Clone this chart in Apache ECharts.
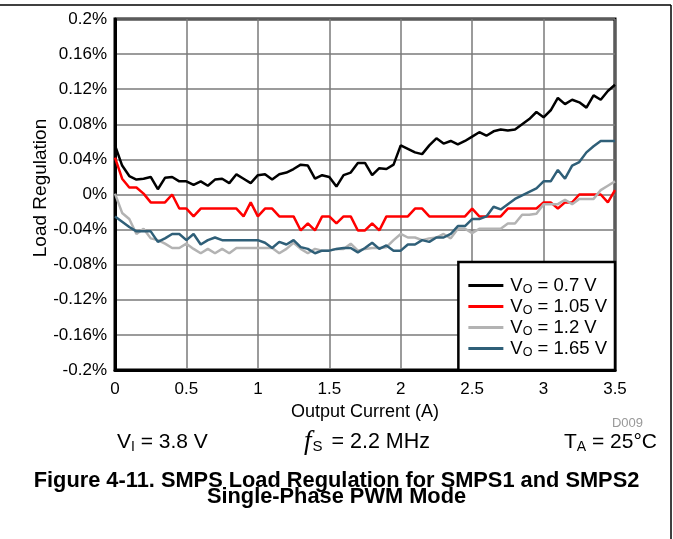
<!DOCTYPE html>
<html>
<head>
<meta charset="utf-8">
<script src="https://cdn.jsdelivr.net/npm/echarts@6/dist/echarts.min.js"></script>
<style>html,body{margin:0;padding:0;background:#fff;}#c{width:673px;height:539px;}</style>
</head>
<body>
<div id="c"></div>
<script>
// Output current (A)
const current = [0,0.05,0.1,0.15,0.2,0.25,0.3,0.35,0.4,0.45,0.5,0.55,0.6,0.65,0.7,0.75,0.8,0.85,0.9,0.95,
  1,1.05,1.1,1.15,1.2,1.25,1.3,1.35,1.4,1.45,1.5,1.55,1.6,1.65,1.7,1.75,1.8,1.85,1.9,1.95,
  2,2.05,2.1,2.15,2.2,2.25,2.3,2.35,2.4,2.45,2.5,2.55,2.6,2.65,2.7,2.75,2.8,2.85,2.9,2.95,
  3,3.05,3.1,3.15,3.2,3.25,3.3,3.35,3.4,3.45,3.5];
// Load regulation (%)
const vo070 = [0.056,0.033,0.021,0.017,0.018,0.020,0.006,0.019,0.020,0.015,0.015,0.011,0.015,0.010,0.017,0.018,0.013,0.023,0.018,0.013,
  0.022,0.023,0.017,0.023,0.025,0.029,0.034,0.033,0.018,0.022,0.020,0.009,0.022,0.025,0.036,0.036,0.022,0.030,0.029,0.034,
  0.056,0.052,0.048,0.046,0.056,0.064,0.058,0.061,0.057,0.061,0.066,0.071,0.067,0.072,0.074,0.073,0.074,0.080,0.086,0.094,
  0.088,0.096,0.110,0.103,0.108,0.105,0.099,0.113,0.108,0.118,0.125];
const vo105 = [0.042,0.018,0.008,0.008,0.001,-0.009,-0.009,-0.009,0.000,-0.016,-0.016,-0.025,-0.016,-0.016,-0.016,-0.016,-0.016,-0.016,-0.025,-0.009,
  -0.025,-0.016,-0.016,-0.025,-0.025,-0.025,-0.041,-0.033,-0.041,-0.025,-0.025,-0.033,-0.025,-0.025,-0.041,-0.041,-0.033,-0.041,-0.025,-0.025,
  -0.025,-0.025,-0.016,-0.016,-0.025,-0.025,-0.025,-0.025,-0.025,-0.025,-0.016,-0.025,-0.025,-0.025,-0.025,-0.016,-0.016,-0.016,-0.016,-0.016,
  -0.009,-0.009,-0.016,-0.009,-0.009,0.000,0.000,0.000,0.000,-0.009,0.005];
const vo120 = [0.001,-0.021,-0.028,-0.045,-0.039,-0.050,-0.052,-0.056,-0.061,-0.061,-0.056,-0.062,-0.067,-0.062,-0.067,-0.062,-0.067,-0.061,-0.061,-0.061,
  -0.061,-0.061,-0.061,-0.067,-0.062,-0.055,-0.062,-0.067,-0.062,-0.064,-0.064,-0.062,-0.062,-0.056,-0.064,-0.062,-0.061,-0.061,-0.060,-0.052,
  -0.045,-0.049,-0.049,-0.052,-0.050,-0.049,-0.045,-0.050,-0.039,-0.039,-0.044,-0.039,-0.039,-0.039,-0.039,-0.033,-0.033,-0.023,-0.023,-0.022,
  -0.011,-0.011,-0.011,-0.006,-0.011,-0.005,-0.005,-0.005,0.005,0.010,0.015];
const vo165 = [-0.025,-0.031,-0.037,-0.042,-0.042,-0.042,-0.054,-0.050,-0.045,-0.045,-0.052,-0.045,-0.057,-0.052,-0.049,-0.052,-0.052,-0.052,-0.052,-0.052,
  -0.052,-0.055,-0.061,-0.054,-0.057,-0.052,-0.060,-0.062,-0.067,-0.064,-0.064,-0.062,-0.061,-0.061,-0.066,-0.061,-0.055,-0.062,-0.058,-0.064,
  -0.064,-0.057,-0.057,-0.052,-0.054,-0.049,-0.049,-0.045,-0.036,-0.036,-0.028,-0.028,-0.025,-0.014,-0.017,-0.011,-0.005,-0.001,0.003,0.007,
  0.015,0.015,0.028,0.018,0.033,0.037,0.048,0.055,0.061,0.061,0.061];
const seriesNames = ['0.7 V','1.05 V','1.2 V','1.65 V'];
const seriesData = [vo070, vo105, vo120, vo165];
const seriesColors = ['#000000','#ff0000','#b3b3b3','#2f5f78'];

const chart = echarts.init(document.getElementById('c'), null, {renderer:'canvas'});
const FF = 'Liberation Sans, Arial, sans-serif';
const subRich = {
  a: {fontSize: 18.5, fontFamily: FF, fontWeight: 'normal', color: '#000', lineHeight: 18},
  s: {fontSize: 12.5, fontFamily: FF, fontWeight: 'normal', color: '#000', lineHeight: 10, padding: [8,0,0,0]}
};
const bigRich = {
  a: {fontSize: 21, fontFamily: FF, fontWeight: 'normal', color: '#000', lineHeight: 22},
  b: {fontSize: 21.5, fontFamily: FF, fontWeight: 'normal', color: '#000', lineHeight: 22, padding: [0,0,0,3]},
  s: {fontSize: 14, fontFamily: FF, fontWeight: 'normal', color: '#000', lineHeight: 12, padding: [10,0,0,0]},
  t: {fontSize: 15, fontFamily: FF, fontWeight: 'normal', color: '#000', lineHeight: 12, padding: [10,0,0,1]},
  i: {fontSize: 27, fontFamily: 'Liberation Serif, serif', fontStyle: 'italic', fontWeight: 'normal', color: '#000', lineHeight: 22}
};
const boldTitle = {fontSize: 21.8, fontWeight: 'bold', fontFamily: FF, color: '#000', lineHeight: 17};

chart.setOption({
  animation: false,
  backgroundColor: '#fff',
  grid: {left: 115, top: 19, right: 58, bottom: 169, show: true, borderColor: '#000', borderWidth: 3, backgroundColor: 'transparent'},
  xAxis: {
    type: 'value', min: 0, max: 3.5, interval: 0.5,
    name: 'Output Current (A)', nameLocation: 'middle', nameGap: 32,
    nameTextStyle: {fontSize: 18, fontFamily: FF, color: '#000'},
    axisLine: {onZero: false, lineStyle: {color: '#000', width: 3}},
    axisTick: {show: false},
    axisLabel: {fontSize: 17, fontFamily: FF, color: '#000', margin: 11},
    splitLine: {show: true, lineStyle: {color: '#7a7a7a', width: 1.5}}
  },
  yAxis: {
    type: 'value', min: -0.2, max: 0.2, interval: 0.04,
    name: 'Load Regulation', nameLocation: 'middle', nameGap: 65, nameRotate: 90,
    nameMoveOverlap: false,
    nameTextStyle: {fontSize: 19, fontFamily: FF, color: '#000', padding: [0,0,0,13]},
    axisLine: {onZero: false, lineStyle: {color: '#000', width: 3}},
    axisTick: {show: false},
    axisLabel: {fontSize: 17, fontFamily: FF, color: '#000', margin: 8,
      formatter: v => (Math.round(v*100)/100) + '%'},
    splitLine: {show: true, lineStyle: {color: '#7a7a7a', width: 1.5}}
  },
  legend: {
    right: 58, bottom: 169, orient: 'vertical',
    backgroundColor: '#fff', borderColor: '#000', borderWidth: 2.5, borderRadius: 0,
    padding: [13, 8, 11, 10], itemGap: 0, itemWidth: 35, itemHeight: 3,
    icon: 'rect',
    formatter: name => '{a|V}{s|O}{a| = ' + name + '}',
    textStyle: {rich: subRich, padding: [0,0,0,2]}
  },
  title: [
    {text: 'D009', right: 30, top: 417, padding: 0, textStyle: {fontSize: 13, fontWeight: 'normal', fontFamily: FF, color: '#999'}},
    {text: '{a|V}{s|I}{a| = 3.8 V}', left: 117, top: 431, padding: 0, textStyle: {rich: bigRich}},
    {text: '{i|f}{t|S}{b| = 2.2 MHz}', left: 304, top: 431, padding: 0, textStyle: {rich: bigRich}},
    {text: '{a|T}{s|A}{a| = 25°C}', right: 16, top: 431, padding: 0, textStyle: {rich: bigRich}},
    {text: 'Figure 4-11. SMPS Load Regulation for SMPS1 and SMPS2', left: 'center', top: 472, padding: 0, textStyle: boldTitle},
    {text: 'Single-Phase PWM Mode', left: 'center', top: 488, padding: 0, textStyle: boldTitle}
  ],
  graphic: [
    {type: 'line', shape: {x1: 0, y1: 5, x2: 671, y2: 5}, style: {stroke: '#000', lineWidth: 1.5}},
    {type: 'line', shape: {x1: 671, y1: 5, x2: 671, y2: 539}, style: {stroke: '#000', lineWidth: 1.5}}
  ],
  series: seriesNames.map((n, k) => ({
    name: n, type: 'line', symbol: 'none', showSymbol: false,
    lineStyle: {color: seriesColors[k], width: 2.5},
    itemStyle: {color: seriesColors[k]},
    data: current.map((x, i) => [x, seriesData[k][i]])
  }))
});
</script>
</body>
</html>
